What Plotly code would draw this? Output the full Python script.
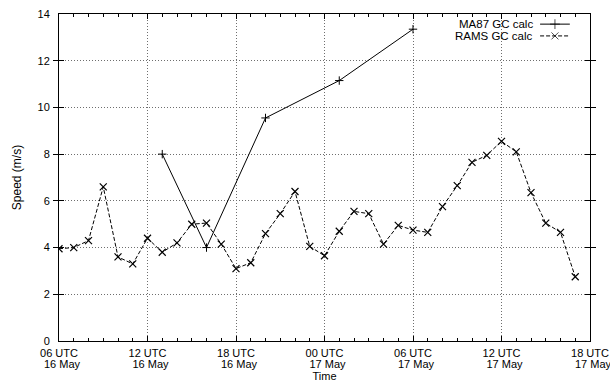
import plotly.graph_objects as go

# Hours after 06 UTC 16 May
rams_hours = list(range(36))
rams_speed = [3.95, 4.0, 4.3, 6.6, 3.6, 3.3, 4.4, 3.8, 4.2, 5.0,
              5.05, 4.15, 3.1, 3.35, 4.6, 5.45, 6.4, 4.05, 3.65, 4.7,
              5.55, 5.45, 4.15, 4.95, 4.75, 4.65, 5.75, 6.65, 7.65, 7.95,
              8.55, 8.1, 6.35, 5.05, 4.65, 2.75]

ma87_hours = [7, 10, 14, 19, 24]
ma87_speed = [8.0, 4.0, 9.55, 11.15, 13.35]

tick_hours = [0, 6, 12, 18, 24, 30, 36]
tick_times = ["06 UTC", "12 UTC", "18 UTC", "00 UTC", "06 UTC", "12 UTC", "18 UTC"]
tick_dates = ["16 May", "16 May", "16 May", "17 May", "17 May", "17 May", "17 May"]

series_names = ["MA87 GC calc", "RAMS GC calc"]

FONT = "Liberation Sans, Arial, Helvetica, sans-serif"
DASH = "4px,2px"

fig = go.Figure()

fig.add_trace(go.Scatter(
    x=ma87_hours, y=ma87_speed, mode="lines+markers", name=series_names[0],
    line=dict(color="black", width=1),
    marker=dict(symbol="cross-thin-open", size=6, line=dict(color="black", width=1)),
    showlegend=False,
))
fig.add_trace(go.Scatter(
    x=rams_hours, y=rams_speed, mode="lines+markers", name=series_names[1],
    line=dict(color="black", width=1, dash=DASH),
    marker=dict(symbol="x-thin-open", size=7, line=dict(color="black", width=1.2)),
    showlegend=False,
))

# Key in the upper right corner: label on the left, sample on the right
key_rows = [(0.969, "solid", "cross-thin-open"), (0.933, DASH, "x-thin-open")]
for name, (yk, dash, sym) in zip(series_names, key_rows):
    fig.add_trace(go.Scatter(
        x=[0.906, 0.934, 0.962], y=[yk, yk, yk], xaxis="x2", yaxis="y2",
        mode="lines+markers", hoverinfo="skip", showlegend=False,
        line=dict(color="black", width=1, dash=dash),
        marker=dict(symbol=sym, size=[0, 7, 0], line=dict(color="black", width=1)),
    ))
    fig.add_annotation(x=0.897, y=yk, xref="paper", yref="paper", text=name,
                       showarrow=False, xanchor="right", yanchor="middle",
                       font=dict(family=FONT, size=11.5, color="black"))

# Invisible trace that carries the date-label axis
fig.add_trace(go.Scatter(x=[0, 36], y=[0, 0], xaxis="x3", mode="none",
                         hoverinfo="skip", showlegend=False))

axis_common = dict(
    showline=True, linecolor="black", linewidth=1, mirror="allticks",
    ticks="inside", tickcolor="black", zeroline=False, automargin=False,
    showgrid=True, gridcolor="#6e6e6e", griddash="1px,2px", gridwidth=1,
    tickfont=dict(family=FONT, size=11, color="black"),
)

fig.update_layout(
    width=610, height=383,
    margin=dict(l=59, r=20, t=14, b=42),
    paper_bgcolor="white", plot_bgcolor="white",
    font=dict(family=FONT, size=11, color="black"),
    xaxis=dict(
        range=[0, 36], tickvals=tick_hours, ticktext=tick_times,
        ticklen=5, ticklabelstandoff=2, ticklabeloverflow="allow",
        minor=dict(dtick=1, ticks="inside", ticklen=3, tickcolor="black", showgrid=False),
        **axis_common,
    ),
    # second row of the time labels: the date
    xaxis3=dict(
        overlaying="x", side="bottom", range=[0, 36], tickvals=tick_hours,
        ticktext=tick_dates, showgrid=False, showline=False, ticks="",
        zeroline=False, automargin=False, ticklabelstandoff=15,
        ticklabelshift=3, ticklabeloverflow="allow",
        tickfont=dict(family=FONT, size=11, color="black"),
        title=dict(text="Time", font=dict(family=FONT, size=11), standoff=2),
    ),
    yaxis=dict(
        range=[0, 14], dtick=2, ticklen=5, ticklabelstandoff=6,
        title=dict(text="Speed (m/s)", font=dict(family=FONT, size=12), standoff=13),
        **axis_common,
    ),
    xaxis2=dict(overlaying="x", range=[0, 1], visible=False, domain=[0, 1]),
    yaxis2=dict(overlaying="y", range=[0, 1], visible=False),
)

fig.write_html("out.html")
